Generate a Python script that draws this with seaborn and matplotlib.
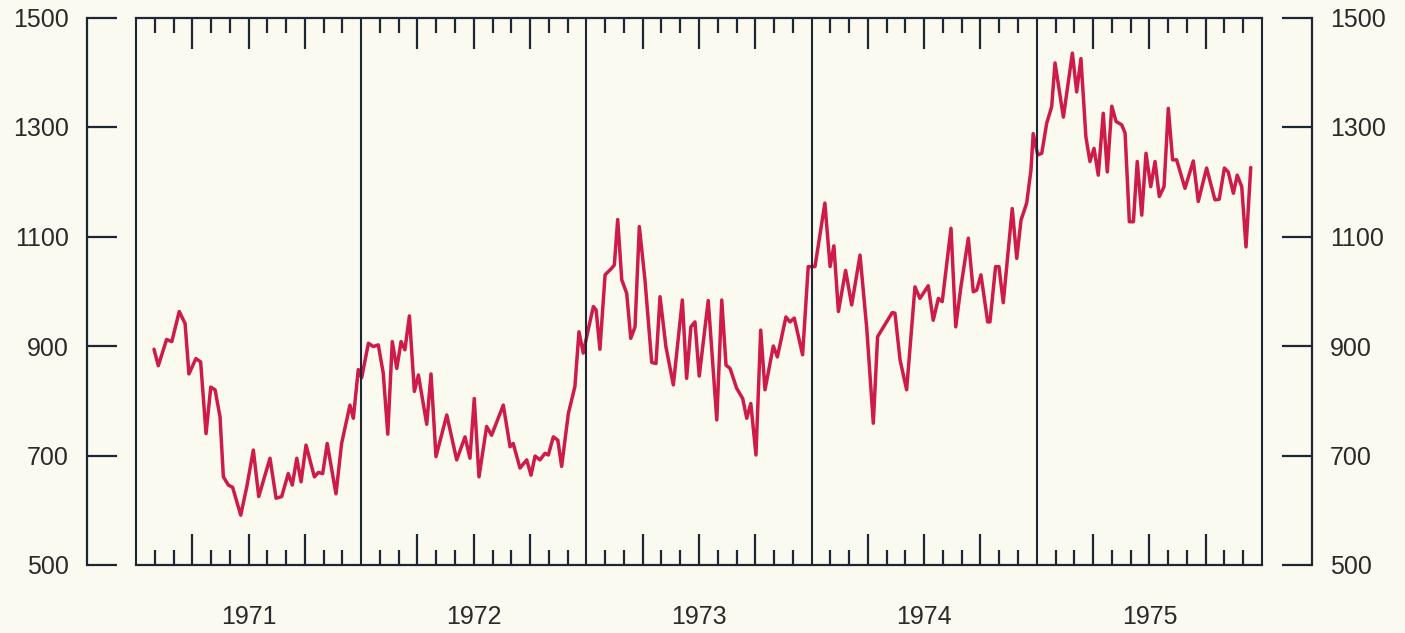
import pandas as pd
import numpy as np
import matplotlib
matplotlib.use("Agg")
import matplotlib.pyplot as plt
import seaborn as sns

# weekly series: position within year (fraction) and value
years = [1971, 1972, 1973, 1974, 1975]

frac_1971 = [0.080, 0.099, 0.136, 0.159, 0.192, 0.218, 0.235, 0.266, 0.287, 0.311,
             0.332, 0.351, 0.373, 0.388, 0.410, 0.429, 0.465, 0.492, 0.521, 0.545,
             0.595, 0.622, 0.647, 0.676, 0.694, 0.714, 0.733, 0.755, 0.792, 0.810,
             0.829, 0.849, 0.888, 0.913, 0.950, 0.965, 0.987]
val_1971 = [894, 864, 912, 908, 963, 941, 849, 877, 871, 740,
            825, 820, 771, 661, 646, 642, 591, 643, 710, 625,
            695, 622, 625, 667, 646, 695, 652, 719, 661, 669,
            667, 722, 630, 722, 792, 768, 857]

frac_1972 = [0.002, 0.032, 0.054, 0.076, 0.098, 0.118, 0.138, 0.158, 0.177, 0.194,
             0.214, 0.236, 0.254, 0.291, 0.310, 0.332, 0.380, 0.424, 0.461, 0.483,
             0.502, 0.523, 0.557, 0.579, 0.631, 0.661, 0.675, 0.705, 0.735, 0.754,
             0.772, 0.794, 0.816, 0.831, 0.853, 0.873, 0.890, 0.920, 0.949, 0.967,
             0.986]
val_1972 = [842, 905, 899, 902, 850, 739, 908, 859, 908, 893,
            955, 817, 847, 757, 849, 698, 774, 692, 734, 695,
            804, 661, 753, 737, 792, 716, 722, 677, 692, 664,
            699, 692, 704, 701, 734, 728, 680, 777, 826, 926,
            887]

frac_1973 = [0.008, 0.031, 0.043, 0.060, 0.083, 0.112, 0.124, 0.139, 0.157, 0.179,
             0.197, 0.216, 0.235, 0.260, 0.290, 0.309, 0.327, 0.353, 0.386, 0.426,
             0.445, 0.464, 0.482, 0.501, 0.541, 0.579, 0.601, 0.620, 0.638, 0.667,
             0.694, 0.712, 0.730, 0.753, 0.774, 0.793, 0.830, 0.848, 0.886, 0.904,
             0.923, 0.960, 0.985]
val_1973 = [930, 972, 966, 894, 1030, 1042, 1048, 1131, 1021, 996,
            914, 935, 1118, 1021, 870, 868, 990, 899, 829, 984,
            841, 935, 944, 845, 983, 765, 984, 865, 859, 823,
            804, 768, 795, 701, 929, 820, 900, 880, 953, 944,
            951, 884, 1045]

frac_1974 = [0.015, 0.059, 0.082, 0.099, 0.119, 0.151, 0.178, 0.215, 0.245, 0.274,
             0.293, 0.333, 0.358, 0.370, 0.393, 0.422, 0.459, 0.481, 0.518, 0.540,
             0.563, 0.580, 0.619, 0.640, 0.663, 0.696, 0.718, 0.733, 0.752, 0.782,
             0.792, 0.817, 0.832, 0.851, 0.891, 0.911, 0.930, 0.955, 0.974, 0.984]
val_1974 = [1045, 1161, 1045, 1083, 963, 1038, 975, 1066, 932, 759,
            917, 944, 961, 960, 874, 820, 1008, 987, 1010, 947,
            987, 981, 1115, 935, 1008, 1097, 999, 1002, 1030, 944,
            944, 1045, 1045, 979, 1151, 1060, 1130, 1161, 1221, 1288]

frac_1975 = [0.004, 0.022, 0.044, 0.066, 0.081, 0.118, 0.158, 0.177, 0.196, 0.218,
             0.236, 0.254, 0.273, 0.295, 0.313, 0.333, 0.352, 0.377, 0.392, 0.411,
             0.429, 0.446, 0.466, 0.485, 0.506, 0.525, 0.544, 0.565, 0.584, 0.603,
             0.621, 0.658, 0.695, 0.717, 0.754, 0.791, 0.810, 0.833, 0.850, 0.873,
             0.890, 0.910, 0.929, 0.950]
val_1975 = [1249, 1252, 1307, 1337, 1417, 1318, 1435, 1364, 1425, 1282,
            1237, 1261, 1212, 1325, 1218, 1338, 1310, 1304, 1289, 1127,
            1127, 1237, 1139, 1252, 1191, 1237, 1173, 1191, 1334, 1240,
            1240, 1188, 1238, 1164, 1225, 1167, 1168, 1225, 1218, 1179,
            1212, 1191, 1081, 1226]

y_ticks = [500, 700, 900, 1100, 1300, 1500]

fracs = [frac_1971, frac_1972, frac_1973, frac_1974, frac_1975]
vals = [val_1971, val_1972, val_1973, val_1974, val_1975]
df = pd.DataFrame({
    "t": [yr + f for yr, fr in zip(years, fracs) for f in fr],
    "value": [v for vl in vals for v in vl],
})

sns.set_style("white")
plt.rcParams["font.family"] = ["Liberation Sans", "DejaVu Sans"]

paper = "#fbfaf0"
ink = "#1f2633"

fig = plt.figure(figsize=(14.05, 6.33), dpi=100, facecolor=paper)
ax = fig.add_axes([136 / 1405, 1 - 565 / 633, 1126 / 1405, 547.5 / 633])
ax.set_facecolor(paper)

sns.lineplot(data=df, x="t", y="value", sort=False, estimator=None,
             color="#cd1b4a", linewidth=2.5, ax=ax,
             solid_joinstyle="round", solid_capstyle="round")

ax.set_xlim(years[0], years[-1] + 1)
ax.set_ylim(500, 1500)

# box sides and year dividers
for yr in years + [years[-1] + 1]:
    ax.axvline(yr, color=ink, linewidth=1.5, zorder=3, clip_on=False)

for side in ["top", "bottom"]:
    ax.spines[side].set_color(ink)
    ax.spines[side].set_linewidth(1.6)
ax.spines["left"].set_position(("outward", 35.3))
ax.spines["right"].set_position(("outward", 36))
for side in ["left", "right"]:
    ax.spines[side].set_visible(True)
    ax.spines[side].set_color(ink)
    ax.spines[side].set_linewidth(1.6)

# y axis on both sides, ticks pointing towards the plot
ax.set_yticks(y_ticks)
ax.yaxis.set_ticks_position("both")
ax.tick_params(axis="y", direction="in", length=21.6, width=1.6, color=ink,
               left=True, right=True, labelleft=True, labelright=True,
               labelsize=18, labelcolor="#2a2a2a", pad=13)

# month ticks: long at quarters, short otherwise
quarters = [yr + q / 4 for yr in years for q in (1, 2, 3)]
months = [yr + m / 12 for yr in years for m in range(1, 12) if m % 3 != 0]
ax.set_xticks(quarters)
ax.set_xticks(months, minor=True)
ax.tick_params(axis="x", which="both", direction="in", top=True, bottom=True,
               labelbottom=False, color=ink, width=1.6)
ax.tick_params(axis="x", which="major", length=22)
ax.tick_params(axis="x", which="minor", length=10.5)

ax.set_xlabel("")
ax.set_ylabel("")
ax.grid(False)

for yr in years:
    ax.text(yr + 0.5, -0.095, str(yr), transform=ax.get_xaxis_transform(),
            ha="center", va="center", fontsize=18, color="#2a2a2a")

fig.savefig("out.png", dpi=100, facecolor=paper)
